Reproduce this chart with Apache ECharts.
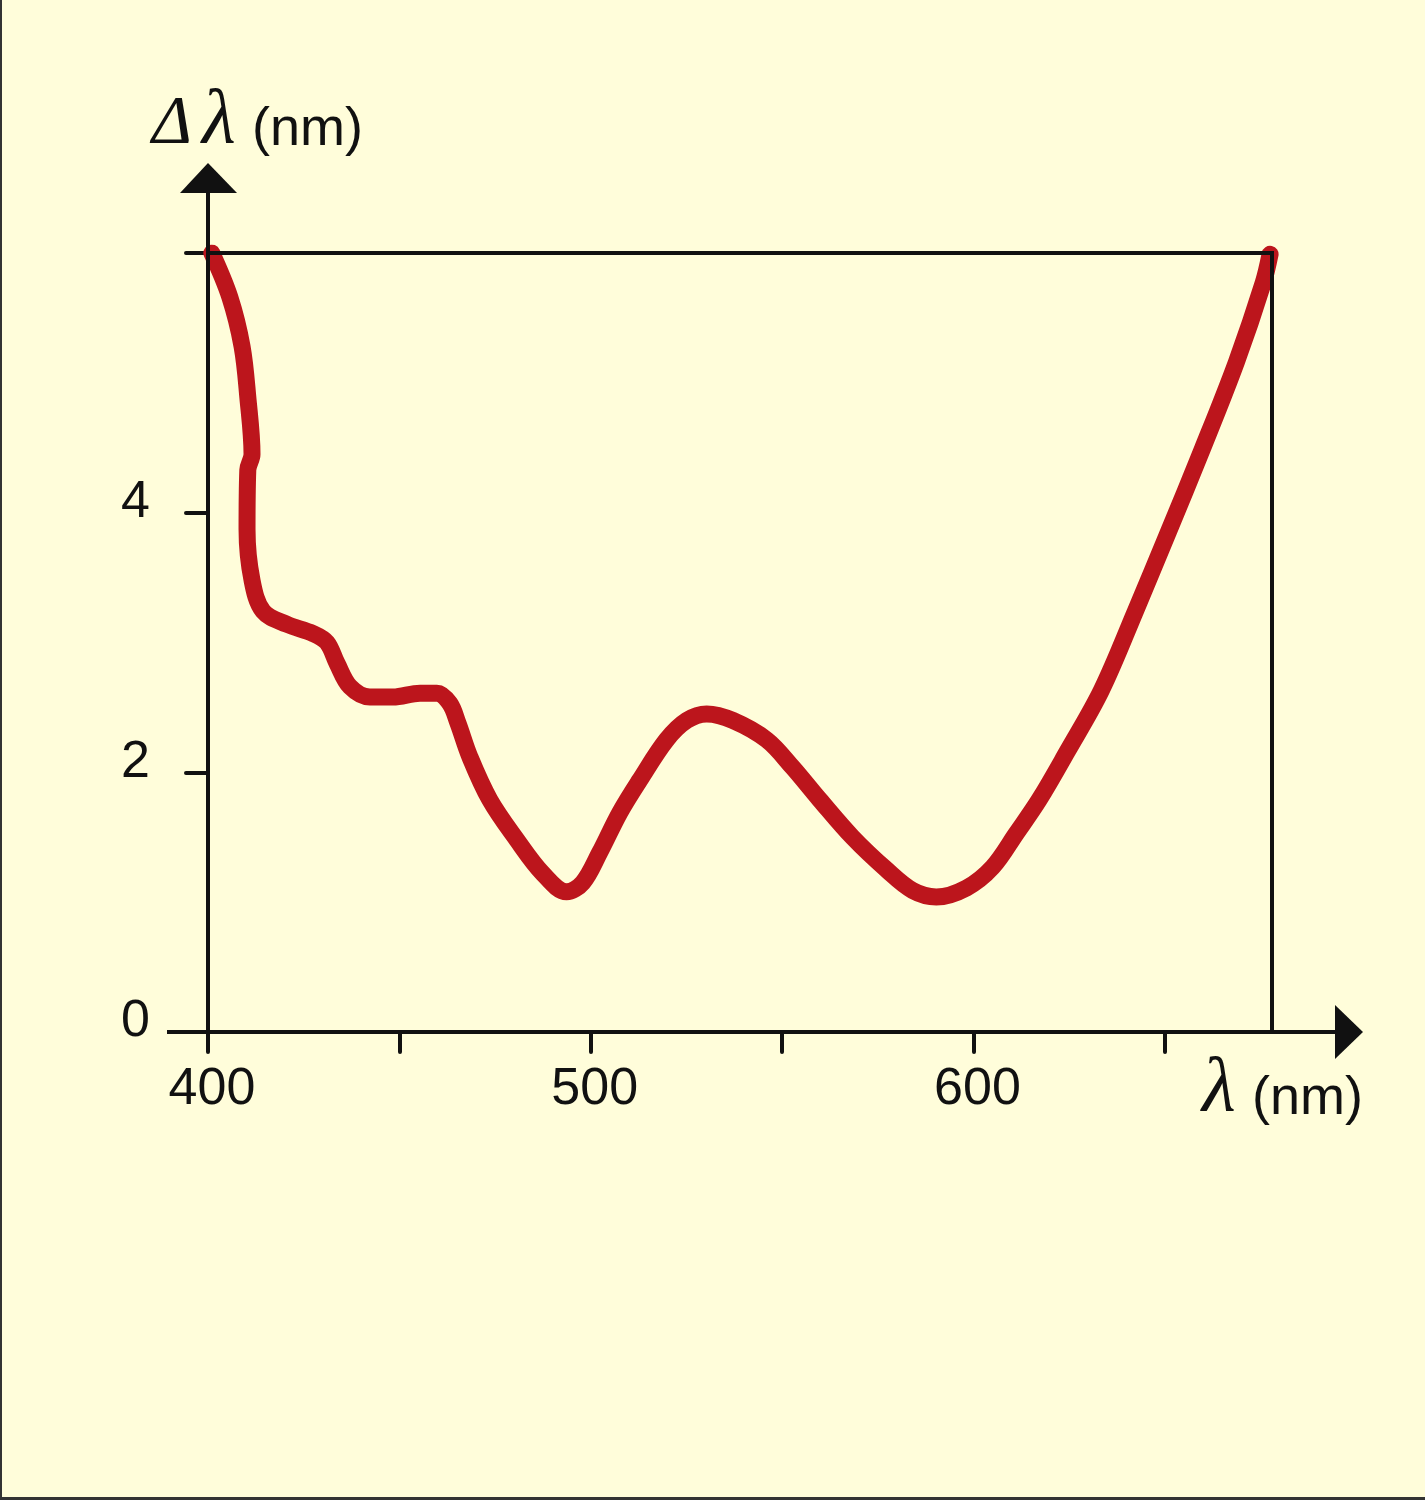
<!DOCTYPE html>
<html>
<head>
<meta charset="utf-8">
<script src="https://cdn.jsdelivr.net/npm/echarts@6/dist/echarts.min.js"></script>
<style>
html,body{margin:0;padding:0;background:#FFFDDA;}
#chart{width:1425px;height:1500px;}
</style>
</head>
<body>
<div id="chart"></div>
<script>
// ---- data ----
const wavelength = [401.0, 405.7, 408.9, 410.4, 411.5, 410.4, 410.2, 411.5, 414.4, 420.6, 427.4, 431.1, 433.7, 437.1, 442.3, 448.3, 455.4, 459.8, 463.2, 465.3, 468.4, 473.6, 480.7, 487.5, 493.7, 497.9, 502.3, 507.6, 512.8, 519.8, 525.1, 530.3, 537.1, 546.0, 552.7, 559.8, 568.4, 577.3, 584.1, 590.3, 598.2, 605.0, 611.2, 617.2, 624.5, 633.4, 642.3, 650.9, 659.8, 668.7, 675.7, 677.5];
const deltaLambda = [6.00, 5.66, 5.28, 4.89, 4.45, 4.33, 3.87, 3.48, 3.24, 3.14, 3.07, 3.00, 2.84, 2.66, 2.58, 2.58, 2.61, 2.61, 2.53, 2.38, 2.12, 1.79, 1.48, 1.22, 1.08, 1.15, 1.38, 1.69, 1.94, 2.25, 2.40, 2.45, 2.40, 2.25, 2.04, 1.79, 1.50, 1.25, 1.09, 1.04, 1.11, 1.27, 1.53, 1.79, 2.16, 2.63, 3.24, 3.85, 4.49, 5.16, 5.77, 5.99];
const xTickValues = [400, 450, 500, 550, 600, 650];
const xLabelValues = [400, 500, 600];
const yTickValues = [0, 2, 4, 6];
const yLabelValues = [0, 2, 4];
const X_MIN = 400, X_MAX = 678, Y_MIN = 0, Y_MAX = 6;

const chart = echarts.init(document.getElementById('chart'));
const sans = '"Liberation Sans", Arial, sans-serif';
const serif = '"Liberation Serif", "Times New Roman", serif';
const ink = '#111';

chart.setOption({
  backgroundColor: '#FFFDDA',
  animation: false,
  grid: { left: 208, right: 153, top: 253, bottom: 468, containLabel: false },
  xAxis: {
    type: 'value', min: X_MIN, max: X_MAX, interval: 50,
    axisLine: { show: false },
    splitLine: { show: false },
    axisTick: { show: true, inside: false, length: 20, customValues: xTickValues,
      lineStyle: { color: ink, width: 4, cap: 'round' } },
    axisLabel: { customValues: xLabelValues, margin: 32, color: ink, fontSize: 52, fontFamily: sans,
      padding: [0, 0, 0, 8] }
  },
  yAxis: {
    type: 'value', min: Y_MIN, max: Y_MAX, interval: 2,
    axisLine: { show: false },
    splitLine: { show: false },
    axisTick: { show: true, inside: false, length: 22, customValues: yTickValues,
      lineStyle: { color: ink, width: 4, cap: 'round' } },
    axisLabel: { customValues: yLabelValues, margin: 58, color: ink, fontSize: 52, fontFamily: sans,
      verticalAlign: 'bottom', lineHeight: 20 }
  },
  series: [{
    type: 'line',
    data: wavelength.map((w, i) => [w, deltaLambda[i]]),
    showSymbol: false,
    smooth: 0.35,
    clip: true,
    lineStyle: { color: '#BC151C', width: 17, cap: 'round', join: 'round' },
    z: 2
  }]
});

const o = chart.convertToPixel({ gridIndex: 0 }, [X_MIN, Y_MIN]);
const t = chart.convertToPixel({ gridIndex: 0 }, [X_MAX, Y_MAX]);
const lw = 4;
function line(x1, y1, x2, y2, cap) {
  return { type: 'line', z: 100, shape: { x1, y1, x2, y2 },
    style: { stroke: ink, lineWidth: lw, lineCap: cap || 'square' } };
}
function txt(x, y, text, size, family, style) {
  return { type: 'text', z: 100, x, y,
    style: { text, fill: ink, fontSize: size, fontFamily: family, fontStyle: style || 'normal',
      textAlign: 'left', textVerticalAlign: 'middle' } };
}

chart.setOption({
  graphic: [
    // frame
    { type: 'rect', z: 100, shape: { x: 0, y: 0, width: 2, height: 1500 }, style: { fill: '#333' } },
    { type: 'rect', z: 100, shape: { x: 0, y: 1497, width: 1425, height: 3 }, style: { fill: '#333' } },
    // x axis
    line(o[0] - 41, o[1], o[0] + 1130, o[1], 'butt'),
    { type: 'polygon', z: 100, shape: { points: [[o[0] + 1155, o[1]], [o[0] + 1127, o[1] - 27], [o[0] + 1127, o[1] + 27]] }, style: { fill: ink } },
    // y axis
    line(o[0], o[1] + 20, o[0], t[1] - 62, 'butt'),
    { type: 'polygon', z: 100, shape: { points: [[o[0], t[1] - 90], [o[0] - 28, t[1] - 60], [o[0] + 29, t[1] - 60]] }, style: { fill: ink } },
    // box
    line(o[0], t[1], t[0], t[1]),
    line(t[0], t[1], t[0], o[1]),
    // axis titles
    txt(152, 124, 'Δ', 68, serif, 'italic'),
    txt(202, 122, 'λ', 78, serif, 'italic'),
    txt(252, 130, '(nm)', 54, sans),
    txt(1202, 1090, 'λ', 78, serif, 'italic'),
    txt(1252, 1099, '(nm)', 54, sans)
  ]
});
</script>
</body>
</html>
